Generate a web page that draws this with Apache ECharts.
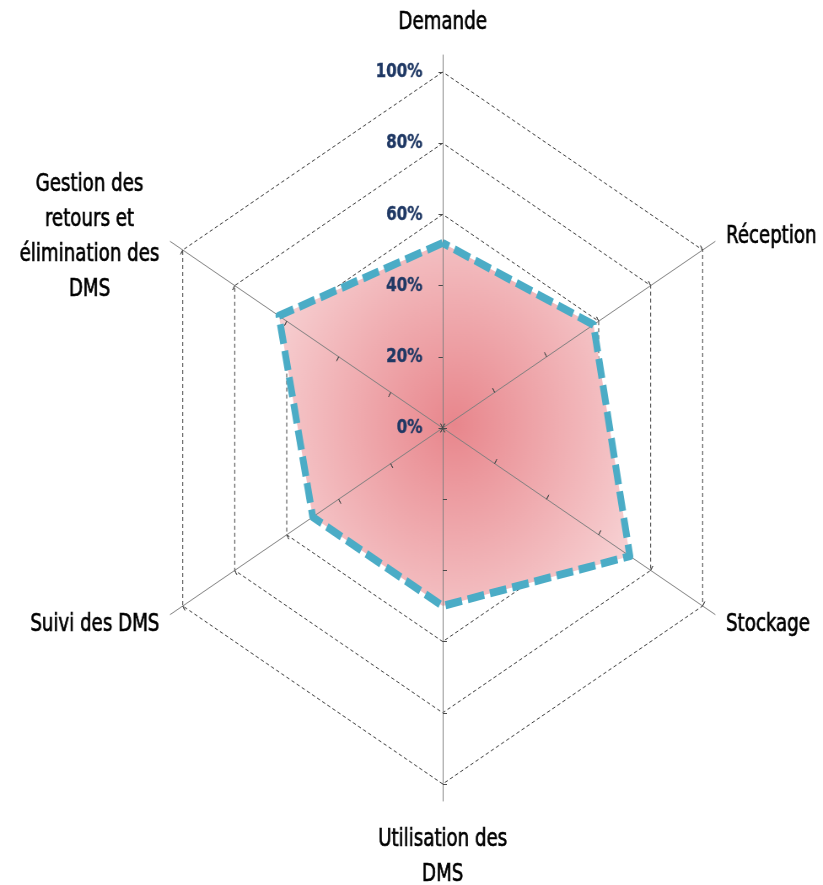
<!DOCTYPE html>
<html>
<head>
<meta charset="utf-8">
<script src="https://cdn.jsdelivr.net/npm/echarts@6/dist/echarts.min.js"></script>
<style>
  html, body { margin: 0; padding: 0; background: #fff; overflow: hidden; }
  #wrap { width: 823px; height: 885px; overflow: hidden; }
  /* the radar is drawn wide and squeezed horizontally to get the flattened hexagon */
  #chart { width: 976px; height: 885px; transform: scaleX(0.8432); transform-origin: 0 0; }
</style>
</head>
<body>
<div id="wrap"><div id="chart"></div></div>
<script>
// Axes, listed counter-clockwise from the top
const axisNames = [
  'Demande',
  'Gestion des\nretours et\nélimination des\nDMS',
  'Suivi des DMS',
  'Utilisation des\nDMS',
  'Stockage',
  'Réception'
];
// Score per axis (%)
const scores = [52, 63, 50, 50, 72, 58];
// Scale ticks (%)
const tickValues = [0, 20, 40, 60, 80, 100];

const scaleMin = tickValues[0];
const scaleMax = tickValues[tickValues.length - 1];
const splits = tickValues.length - 1;

const chart = echarts.init(document.getElementById('chart'), null, { renderer: 'canvas' });

const nameFont = 'DejaVu Sans Condensed';
const labelStyle = {
  show: true,
  margin: 24,
  color: '#1f3864',
  fontFamily: nameFont,
  fontWeight: 'bold',
  fontSize: 20,
  textBorderColor: '#1f3864',
  textBorderWidth: 0.4,
  formatter: '{value}%'
};

function indicators(withLabel) {
  return axisNames.map((n, i) => {
    const ind = { name: n, min: scaleMin, max: scaleMax };
    if (withLabel) ind.axisLabel = i === 0 ? labelStyle : { show: false };
    return ind;
  });
}

const base = {
  center: [525, 428],
  radius: 356,
  startAngle: 90,
  shape: 'polygon',
  splitNumber: splits,
  splitArea: { show: false }
};

const nameText = {
  color: '#000',
  fontFamily: nameFont,
  fontSize: 24,
  lineHeight: 35,
  textBorderColor: '#000',
  textBorderWidth: 0.6
};

const option = {
  backgroundColor: '#ffffff',
  animation: false,
  radar: [
    // dashed grid and axis names, underneath the filled area
    Object.assign({}, base, {
      z: 1,
      indicator: indicators(false),
      nameGap: 32,
      axisName: Object.assign({
        show: true,
        padding: [6, 0, 0, 0],
        formatter: (n) => n.split('\n').map(s => '{c|' + s + '}').join('\n'),
        rich: { c: Object.assign({ align: 'center' }, nameText) }
      }, nameText),
      axisLine: { show: false },
      axisTick: { show: false },
      axisLabel: { show: false },
      splitLine: { show: true, lineStyle: { color: '#3a3a3a', width: 1, type: [4, 3] } }
    }),
    // axis spokes running slightly past the outer ring
    Object.assign({}, base, {
      z: 3,
      radius: 373,
      indicator: indicators(false),
      axisName: { show: false },
      axisLine: { show: true, lineStyle: { color: '#7f7f7f', width: 1 } },
      axisTick: { show: false },
      axisLabel: { show: false },
      splitLine: { show: false }
    }),
    // outer half of the tick marks, plus the scale labels on the top axis
    Object.assign({}, base, {
      z: 4,
      indicator: indicators(true),
      axisName: { show: false },
      axisLine: { show: false },
      axisTick: { show: true, length: 5, inside: false, lineStyle: { color: '#4a4a4a', width: 1 } },
      axisLabel: { show: false },
      splitLine: { show: false }
    }),
    // inner half of the tick marks
    Object.assign({}, base, {
      z: 4,
      indicator: indicators(false),
      axisName: { show: false },
      axisLine: { show: false },
      axisTick: { show: true, length: 5, inside: true, lineStyle: { color: '#4a4a4a', width: 1 } },
      axisLabel: { show: false },
      splitLine: { show: false }
    })
  ],
  series: [
    {
      type: 'radar',
      radarIndex: 0,
      z: 2,
      symbol: 'none',
      silent: true,
      lineStyle: { width: 0, opacity: 0 },
      areaStyle: {
        opacity: 1,
        color: {
          type: 'radial', x: 0.5, y: 0.5, r: 0.65,
          colorStops: [
            { offset: 0, color: '#e8868c' },
            { offset: 1, color: '#f7d0d2' }
          ]
        }
      },
      data: [{ value: scores }]
    },
    {
      type: 'radar',
      radarIndex: 0,
      z: 10,
      symbol: 'none',
      silent: true,
      lineStyle: { color: '#4bacc6', width: 8, type: [20, 7] },
      data: [{ value: scores }]
    }
  ]
};

chart.setOption(option);
</script>
</body>
</html>
